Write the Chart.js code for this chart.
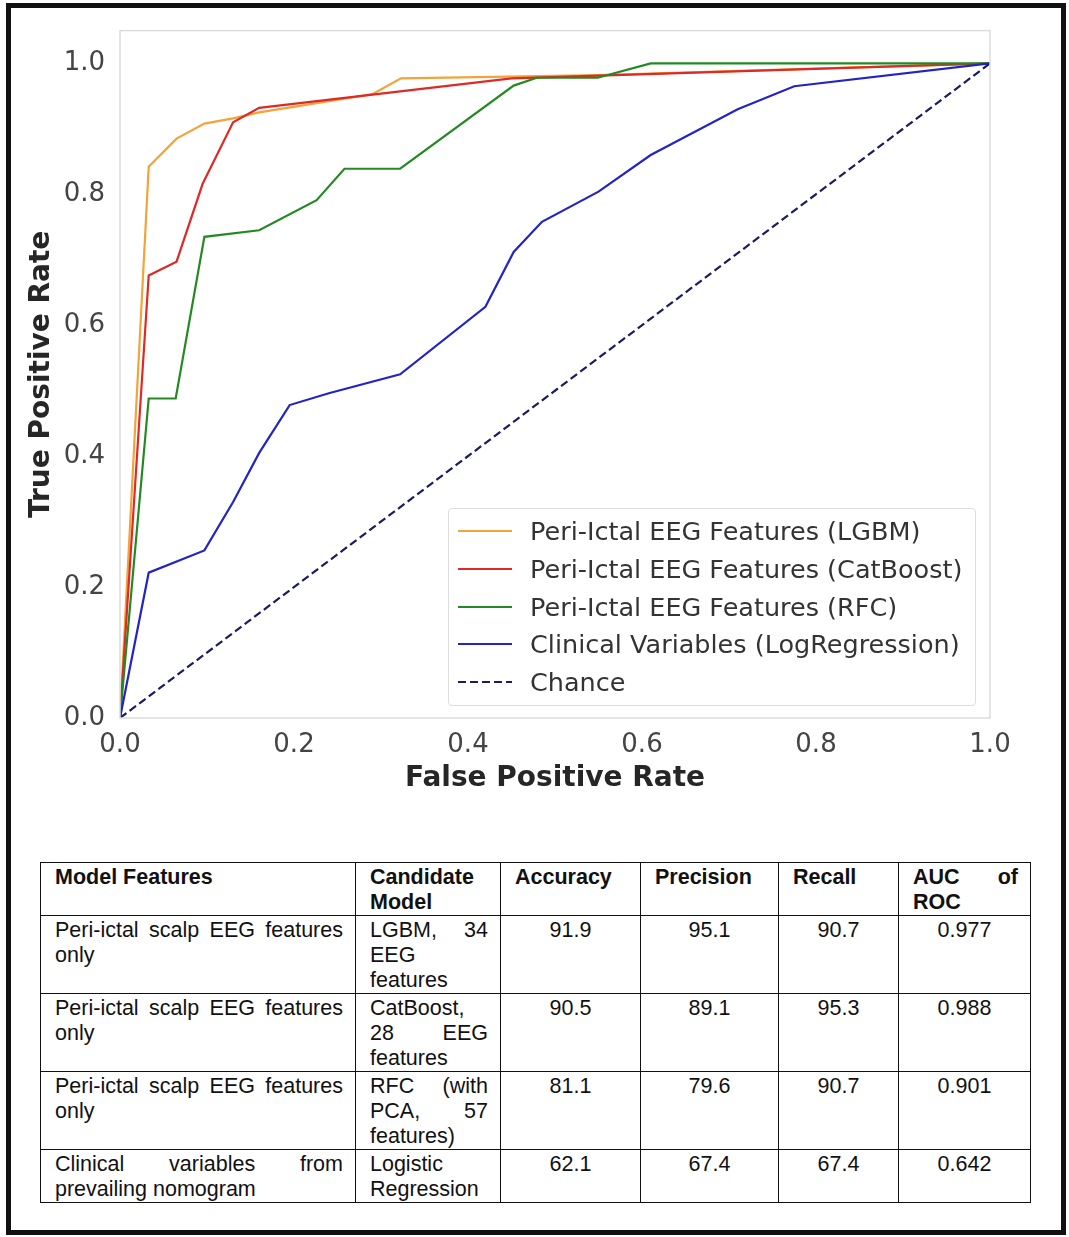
<!DOCTYPE html>
<html>
<head>
<meta charset="utf-8">
<script src="https://cdn.jsdelivr.net/npm/chart.js@4.4.0/dist/chart.umd.min.js"></script>
<style>
  body { margin: 0; background: #fff; }
  #page { position: relative; width: 1069px; height: 1237px; overflow: hidden; }
  #frame { position: absolute; left: 6px; top: 3px; width: 1050px; height: 1222px; border: 5px solid #111; }
  #chartBox { position: absolute; left: 0; top: 0; width: 1069px; height: 820px; }
  #legend { position: absolute; left: 448px; top: 508px; width: 526px; height: 196px;
    border: 1px solid #ddd; border-radius: 4px; background: rgba(255,255,255,0.85);
    font-family: "DejaVu Sans", sans-serif; font-size: 25.5px; color: #333; }
  .row { position: absolute; left: 0; height: 30px; display: flex; align-items: center; white-space: nowrap; }
  .row svg { margin-left: 9px; margin-right: 18px; }
  #tbl { position: absolute; left: 40px; top: 862px; border-collapse: collapse;
    font-family: "Liberation Sans", Arial, sans-serif; font-size: 21.5px; line-height: 25px; color: #111; }
  #tbl td { border: 1.5px solid #111; vertical-align: top; padding: 2px 12px 0 14px; }
  #tbl th { border: 1.5px solid #111; vertical-align: top; padding: 2px 12px 0 14px; text-align: left; font-weight: bold; }
  #tbl td.num { text-align: center; padding-left: 0; padding-right: 0; }
  .j { text-align: justify; text-align-last: justify; }
</style>
</head>
<body>
<div id="page">
  <div id="frame"></div>
  <div id="chartBox"><canvas id="roc"></canvas></div>
  <div id="legend"></div>
  <table id="tbl"></table>
</div>
<script>
// ROC curves
const lgbmFpr = [0, 0.033, 0.065, 0.097, 0.13, 0.16, 0.29, 0.323, 0.55, 1.0];
const lgbmTpr = [0, 0.842, 0.885, 0.908, 0.916, 0.925, 0.953, 0.977, 0.982, 1.0];

const catFpr = [0, 0.033, 0.065, 0.095, 0.13, 0.16, 0.45, 1.0];
const catTpr = [0, 0.676, 0.697, 0.816, 0.910, 0.932, 0.977, 1.0];

const rfcFpr = [0, 0.033, 0.064, 0.097, 0.16, 0.226, 0.258, 0.322, 0.4525, 0.479, 0.549, 0.61, 1.0];
const rfcTpr = [0, 0.488, 0.488, 0.735, 0.745, 0.791, 0.839, 0.839, 0.966, 0.978, 0.978, 1.0, 1.0];

const lrFpr = [0, 0.033, 0.097, 0.13, 0.16, 0.195, 0.24, 0.322, 0.42, 0.4525, 0.485, 0.55, 0.61, 0.71, 0.775, 1.0];
const lrTpr = [0, 0.222, 0.256, 0.33, 0.405, 0.478, 0.496, 0.525, 0.628, 0.712, 0.758, 0.804, 0.86, 0.93, 0.965, 1.0];

const chanceFpr = [0, 1];
const chanceTpr = [0, 1];

const seriesNames = [
    "Peri-Ictal EEG Features (LGBM)",
    "Peri-Ictal EEG Features (CatBoost)",
    "Peri-Ictal EEG Features (RFC)",
    "Clinical Variables (LogRegression)",
    "Chance",
];
const seriesColors = ["#f2a33a", "#dd2a26", "#238a23", "#2424c4", "#1c1c60"];
const xTicks = [0, 0.2, 0.4, 0.6, 0.8, 1.0];
const yTicks = [0, 0.2, 0.4, 0.6, 0.8, 1.0];

// table values
const tblHeader = [["Model Features"], ["Candidate", "Model"], ["Accuracy"], ["Precision"], ["Recall"], ["AUC of", "ROC"]];
const modelFeatures = [
    ["Peri-ictal scalp EEG features", "only"],
    ["Peri-ictal scalp EEG features", "only"],
    ["Peri-ictal scalp EEG features", "only"],
    ["Clinical variables from", "prevailing nomogram"],
];
const candidateModels = [
    ["LGBM, 34", "EEG", "features"],
    ["CatBoost,", "28 EEG", "features"],
    ["RFC (with", "PCA, 57", "features)"],
    ["Logistic", "Regression"],
];
const accuracy = ["91.9", "90.5", "81.1", "62.1"];
const precision = ["95.1", "89.1", "79.6", "67.4"];
const recall = ["90.7", "95.3", "90.7", "67.4"];
const aucRoc = ["0.977", "0.988", "0.901", "0.642"];

function toPoints(xs, ys) {
    return xs.map((x, i) => ({x: x, y: ys[i]}));
}

const curves = [
    toPoints(lgbmFpr, lgbmTpr),
    toPoints(catFpr, catTpr),
    toPoints(rfcFpr, rfcTpr),
    toPoints(lrFpr, lrTpr),
    toPoints(chanceFpr, chanceTpr),
];

const datasets = curves.map((pts, i) => ({
    label: seriesNames[i],
    data: pts,
    borderColor: seriesColors[i],
    borderWidth: 2.2,
    borderDash: i === 4 ? [8, 4] : [],
    pointRadius: 0,
    tension: 0,
    fill: false,
    order: 5 - i, // later series drawn on top, like matplotlib
}));

// light grey box round the plot area
const frameBox = {
    id: "frameBox",
    afterDraw(chart) {
        const {ctx, chartArea: a} = chart;
        ctx.save();
        ctx.strokeStyle = "#dcdcdc";
        ctx.lineWidth = 1.5;
        ctx.strokeRect(a.left, a.top, a.right - a.left, a.bottom - a.top);
        ctx.restore();
    },
};

new Chart(document.getElementById("roc"), {
    type: "line",
    data: {datasets: datasets},
    plugins: [frameBox],
    options: {
        responsive: true,
        maintainAspectRatio: false,
        animation: false,
        layout: {padding: {left: 0, top: 30, right: 79, bottom: 0}},
        plugins: {legend: {display: false}, tooltip: {enabled: false}},
        scales: {
            x: {
                type: "linear",
                min: 0,
                max: 1.0,
                afterBuildTicks: (s) => { s.ticks = xTicks.map((v) => ({value: v})); },
                afterFit: (s) => { s.height = 102; },
                grid: {display: false, drawTicks: false},
                border: {display: false},
                ticks: {
                    padding: 12,
                    color: "#444",
                    font: {family: "DejaVu Sans", size: 26},
                    callback: (v) => v.toFixed(1),
                    maxRotation: 0,
                },
                title: {
                    display: true,
                    text: "False Positive Rate",
                    color: "#262626",
                    font: {family: "DejaVu Sans", size: 28, weight: "bold"},
                    padding: {top: 0, bottom: 24},
                },
            },
            y: {
                type: "linear",
                min: 0,
                max: 1.05,
                afterBuildTicks: (s) => { s.ticks = yTicks.map((v) => ({value: v})); },
                afterFit: (s) => { s.width = 120; },
                grid: {display: false, drawTicks: false},
                border: {display: false},
                ticks: {
                    padding: 15,
                    color: "#444",
                    font: {family: "DejaVu Sans", size: 26},
                    callback: (v) => v.toFixed(1),
                },
                title: {
                    display: true,
                    text: "True Positive Rate",
                    color: "#262626",
                    font: {family: "DejaVu Sans", size: 28, weight: "bold"},
                    padding: {top: 25, bottom: 0},
                },
            },
        },
    },
});

// legend inside the plot, bottom right
const legend = document.getElementById("legend");
seriesNames.forEach((name, i) => {
    const row = document.createElement("div");
    row.className = "row";
    row.style.top = (7 + i * 37.8) + "px";
    const dash = i === 4 ? ' stroke-dasharray="8 4"' : "";
    row.innerHTML = '<svg width="54" height="6"><line x1="0" y1="3" x2="54" y2="3" stroke="' +
        seriesColors[i] + '" stroke-width="2.2"' + dash + '/></svg><span>' + name + "</span>";
    legend.appendChild(row);
});

// metrics table
function cellHtml(lines) {
    return lines.map((t, k) => '<div class="' + (k < lines.length - 1 ? "j" : "") + '">' + t + "</div>").join("");
}
const colWidths = [315, 145, 140, 138, 120, 132];
const tbl = document.getElementById("tbl");
let html = "<colgroup>" + colWidths.map((w) => '<col style="width:' + w + 'px">').join("") + "</colgroup>";
html += '<tr style="height:51px">' + tblHeader.map((h) => "<th>" + cellHtml(h) + "</th>").join("") + "</tr>";
const rowHeights = [77, 77, 78, 50];
modelFeatures.forEach((mf, r) => {
    html += '<tr style="height:' + rowHeights[r] + 'px">' +
        "<td>" + cellHtml(mf) + "</td>" +
        "<td>" + cellHtml(candidateModels[r]) + "</td>" +
        '<td class="num">' + accuracy[r] + "</td>" +
        '<td class="num">' + precision[r] + "</td>" +
        '<td class="num">' + recall[r] + "</td>" +
        '<td class="num">' + aucRoc[r] + "</td></tr>";
});
tbl.innerHTML = html;
tbl.style.width = colWidths.reduce((a, b) => a + b, 0) + "px";
tbl.style.tableLayout = "fixed";
</script>
</body>
</html>
